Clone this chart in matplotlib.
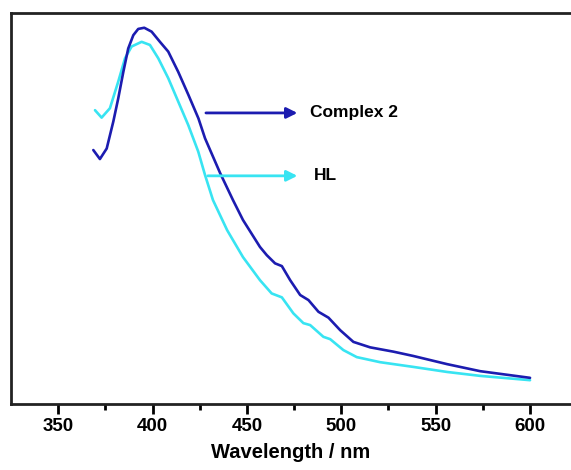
import matplotlib.pyplot as plt

plt.rcParams['font.family'] = ['Liberation Sans', 'DejaVu Sans']

# Complex 2 (dark blue) spectrum, arbitrary intensity
wl_complex = [368.6, 372.1, 375.7, 379.2, 381.8, 384.5, 387.1, 389.8, 392.4, 395.6,
              399.5, 403.9, 408.3, 413.6, 419.0, 424.3, 427.8, 435.8, 442.6, 447.9,
              456.9, 460.5, 464.9, 468.5, 472.9, 478.2, 482.6, 487.9, 493.2, 499.4,
              506.4, 515.3, 527.6, 538.1, 556.1, 573.6, 600.0]
int_complex = [65.0, 62.7, 65.4, 72.3, 78.2, 85.0, 91.0, 94.4, 96.0, 96.3,
               95.3, 92.7, 90.2, 85.0, 79.1, 73.1, 68.0, 59.1, 52.2, 47.1,
               40.2, 38.1, 36.0, 35.3, 31.7, 27.9, 26.6, 23.6, 22.1, 18.9,
               15.9, 14.5, 13.4, 12.3, 10.2, 8.4, 6.7]

# HL (cyan) spectrum
wl_hl = [369.5, 373.0, 377.4, 381.8, 385.4, 388.9, 394.2, 398.6, 403.0, 408.3,
         413.6, 418.9, 424.2, 427.8, 432.0, 439.5, 447.9, 456.9, 463.1, 468.5,
         474.6, 479.9, 483.5, 490.5, 494.1, 501.1, 508.2, 520.6, 538.1, 556.1,
         573.6, 600.0]
int_hl = [75.2, 73.3, 75.7, 82.5, 88.5, 91.5, 92.7, 91.9, 88.5, 83.4,
          77.4, 71.4, 64.6, 58.6, 52.2, 44.5, 37.6, 31.7, 28.3, 27.3,
          23.2, 20.7, 20.2, 17.2, 16.6, 13.8, 12.0, 10.7, 9.5, 8.2,
          7.2, 6.1]

xticks = [350, 400, 450, 500, 550, 600]

blue = '#1c1cb0'
cyan = '#38e4f2'

fig = plt.figure(figsize=(5.71, 4.70), dpi=100)
ax = fig.add_axes([0.0193, 0.1404, 0.9807, 0.8313])

ax.plot(wl_hl, int_hl, color=cyan, lw=1.9, solid_joinstyle='round', solid_capstyle='round')
ax.plot(wl_complex, int_complex, color=blue, lw=1.9, solid_joinstyle='round', solid_capstyle='round')

ax.set_xlim(325, 621.7)
ax.set_ylim(0, 100)

# arrow labels
ax.annotate('', xy=(478.2, 74.5), xytext=(426.8, 74.5),
            arrowprops=dict(arrowstyle='-|>', color=blue, lw=2, mutation_scale=16))
ax.text(483.6, 74.5, 'Complex 2', fontsize=12.5, fontweight='bold', va='center', ha='left')
ax.annotate('', xy=(478.2, 58.4), xytext=(427.8, 58.4),
            arrowprops=dict(arrowstyle='-|>', color=cyan, lw=2, mutation_scale=16))
ax.text(485.6, 58.4, 'HL', fontsize=12.5, fontweight='bold', va='center', ha='left')

ax.spines['right'].set_visible(False)
for s in ['left', 'top', 'bottom']:
    ax.spines[s].set_linewidth(2)
    ax.spines[s].set_color('#222222')

ax.set_xticks(xticks)
ax.set_xticks([375, 425, 475, 525, 575], minor=True)
ax.tick_params(axis='x', which='major', direction='out', length=7, width=2,
               labelsize=13.5, pad=3)
ax.tick_params(axis='x', which='minor', direction='out', length=4, width=2)
for lab in ax.get_xticklabels():
    lab.set_fontweight('bold')
ax.set_yticks([])
ax.set_xlabel('Wavelength / nm', fontsize=14.5, fontweight='bold', labelpad=6)

fig.savefig('out.png', dpi=100)
